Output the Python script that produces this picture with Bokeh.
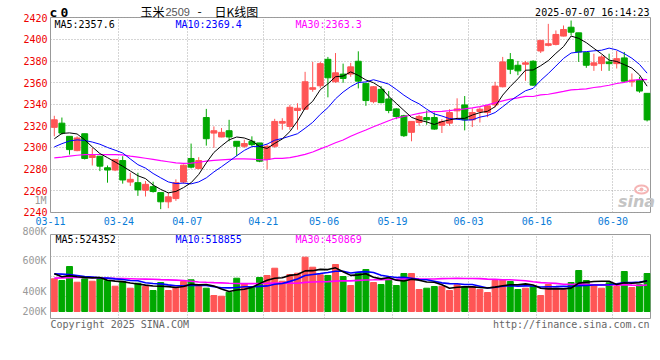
from bokeh.plotting import figure
from bokeh.models import ColumnDataSource, FixedTicker, Label, Range1d
from bokeh.embed import file_html
from bokeh.resources import INLINE

# ---------------- data ----------------
tick_index = [0, 9, 18, 28, 36, 45, 55, 64, 74]
tick_labels = ["03-11", "03-24", "04-07", "04-21", "05-06", "05-19", "06-03", "06-16", "06-30"]
price_ticks = [2240, 2260, 2280, 2300, 2320, 2340, 2360, 2380, 2400, 2420]
vol_tick_labels = ["1M", "800K", "600K", "400K", "200K"]

opens = [2318.6, 2322.5, 2310.3, 2297.1, 2312.7, 2290.7, 2291.9, 2281.2, 2279.1, 2287.9,
         2268.0, 2267.4, 2260.4, 2263.7, 2258.2, 2249.7, 2252.7, 2268.0, 2289.8, 2280.6,
         2327.7, 2313.3, 2309.7, 2315.5, 2305.7, 2301.1, 2305.7, 2304.2, 2288.9, 2301.1,
         2322.5, 2319.5, 2334.2, 2335.4, 2353.8, 2357.1, 2381.6, 2360.8, 2367.9, 2367.9,
         2379.8, 2359.3, 2342.4, 2353.8, 2344.9, 2335.7, 2329.3, 2314.0, 2323.1, 2327.7,
         2327.7, 2320.5, 2322.5, 2333.9, 2339.4, 2325.6, 2333.3, 2332.3, 2339.4, 2356.2,
         2381.3, 2376.1, 2377.0, 2379.8, 2389.3, 2394.5, 2395.4, 2403.1, 2411.3, 2406.1,
         2387.8, 2376.1, 2377.6, 2379.2, 2377.6, 2382.9, 2360.8, 2362.3, 2350.1]
highs = [2329.3, 2327.7, 2310.3, 2310.3, 2312.7, 2299.6, 2291.9, 2283.3, 2288.9, 2291.9,
         2276.6, 2276.6, 2268.9, 2268.3, 2258.2, 2258.2, 2270.5, 2284.2, 2303.6, 2291.0,
         2335.7, 2319.5, 2318.0, 2325.6, 2305.7, 2307.2, 2310.3, 2304.2, 2302.6, 2326.5,
         2327.1, 2339.4, 2340.9, 2370.0, 2379.2, 2379.2, 2383.8, 2387.4, 2377.6, 2378.3,
         2389.0, 2359.3, 2356.8, 2356.8, 2352.2, 2336.3, 2330.2, 2324.1, 2330.2, 2334.2,
         2332.3, 2326.2, 2335.4, 2345.5, 2347.6, 2336.3, 2337.2, 2339.4, 2360.8, 2383.8,
         2387.4, 2380.1, 2380.1, 2380.7, 2399.1, 2414.4, 2408.3, 2412.9, 2417.5, 2406.1,
         2387.8, 2386.8, 2385.3, 2386.8, 2389.3, 2388.4, 2368.5, 2365.4, 2350.1]
lows = [2310.3, 2311.8, 2293.4, 2296.5, 2288.9, 2283.3, 2278.1, 2267.4, 2278.1, 2266.5,
        2264.4, 2255.2, 2254.6, 2258.2, 2242.9, 2243.8, 2250.6, 2266.5, 2280.6, 2279.7,
        2301.7, 2299.6, 2309.4, 2305.7, 2291.9, 2299.6, 2301.1, 2286.4, 2279.7, 2299.6,
        2316.4, 2316.4, 2316.4, 2334.8, 2351.6, 2354.7, 2346.4, 2359.9, 2359.9, 2365.4,
        2354.7, 2338.5, 2340.9, 2340.9, 2331.7, 2326.2, 2309.7, 2305.7, 2320.1, 2321.0,
        2316.4, 2313.4, 2320.1, 2325.6, 2315.8, 2318.9, 2323.1, 2328.0, 2337.2, 2355.6,
        2367.9, 2366.9, 2361.7, 2356.8, 2387.4, 2393.6, 2394.5, 2402.8, 2403.7, 2379.2,
        2373.7, 2370.9, 2370.9, 2370.9, 2373.1, 2360.8, 2356.2, 2350.7, 2324.1]
closes = [2325.6, 2313.3, 2298.0, 2308.8, 2289.8, 2292.5, 2282.7, 2279.1, 2288.9, 2269.9,
          2270.5, 2260.7, 2265.9, 2259.2, 2249.7, 2254.3, 2267.4, 2283.6, 2281.8, 2287.9,
          2308.1, 2315.5, 2314.0, 2309.7, 2301.1, 2303.6, 2302.6, 2287.3, 2301.1, 2324.1,
          2324.1, 2337.2, 2336.3, 2360.8, 2355.3, 2377.6, 2364.5, 2369.1, 2363.9, 2374.6,
          2361.4, 2343.4, 2356.2, 2341.5, 2334.2, 2328.7, 2310.9, 2324.1, 2328.7, 2325.6,
          2317.0, 2324.0, 2332.3, 2335.7, 2325.6, 2332.3, 2335.4, 2338.5, 2356.8, 2379.2,
          2372.4, 2370.9, 2378.3, 2357.7, 2399.1, 2396.0, 2404.6, 2409.2, 2406.7, 2388.4,
          2376.1, 2378.3, 2383.8, 2377.6, 2382.2, 2361.4, 2362.3, 2352.2, 2325.5]
volumes = [556000, 527000, 765000, 498000, 556000, 515000, 556000, 527000, 430000, 510000,
           396000, 481000, 425000, 357000, 493000, 357000, 413000, 510000, 539000, 442000,
           396000, 272000, 260000, 328000, 566000, 471000, 425000, 578000, 612000, 736000,
           515000, 629000, 651000, 923000, 753000, 624000, 612000, 799000, 595000, 442000,
           663000, 714000, 493000, 459000, 556000, 442000, 646000, 646000, 374000, 396000,
           425000, 430000, 357000, 454000, 425000, 425000, 374000, 323000, 527000, 544000,
           510000, 374000, 396000, 425000, 272000, 459000, 396000, 369000, 493000, 697000,
           527000, 459000, 396000, 488000, 425000, 680000, 408000, 454000, 646000]

# moving-average values before enough candles are on screen
ma5_head = [2308.0, 2313.0, 2313.5, 2312.5]
ma10_head = [2300.5, 2303.5, 2306.0, 2307.0, 2306.5, 2305.0, 2303.0, 2300.0, 2297.5]
ma30_head = [2290.4, 2291.0, 2292.0, 2292.8, 2293.4, 2293.5, 2293.5, 2293.4, 2293.4, 2293.2,
             2292.0, 2291.0, 2290.0, 2288.9, 2287.8, 2286.8, 2285.8, 2285.3, 2285.5, 2286.3,
             2287.3, 2288.0, 2288.6, 2289.0, 2289.4, 2289.5, 2289.2, 2288.8, 2288.6]
vma5_head = [640000, 590000, 610000, 590000]
vma10_head = [640000, 635000, 629000, 612000, 595000, 584000, 572000, 567000, 555000]
vma30_head = [567000, 572000, 575000, 580000, 584000, 578000, 572000, 567000, 563000, 560000,
              557000, 553000, 550000, 547000, 542000, 538000, 533000, 527000, 515000, 502000,
              496000, 491000, 487000, 480000, 476000, 474000, 474000, 476000, 479000]

header_ma = ["MA5:2357.6", "MA10:2369.4", "MA30:2363.3"]
header_vma = ["MA5:524352", "MA10:518855", "MA30:450869"]
timestamp = "2025-07-07 16:14:23"


def moving_average(vals, n, head):
    out = list(head)
    for i in range(n - 1, len(vals)):
        out.append(sum(vals[i - n + 1:i + 1]) / n)
    return out


# ---------------- layout constants ----------------
W = 660
LEFT, RIGHT = 50, 10
FRAME_W = W - LEFT - RIGHT
SLOT = 7.6
F1_TOP, F1_FRAME_H, F1_BOT = 17, 195, 16
F1_H = F1_TOP + F1_FRAME_H + F1_BOT          # 228
F2_TOP, F2_FRAME_H, F2_BOT = 6, 84, 4
F2_H = F2_TOP + F2_FRAME_H + F2_BOT
F2_PAGE_TOP = F1_H
F2_FRAME_TOP = F2_PAGE_TOP + F2_TOP          # 234
F2_FRAME_BOTTOM = F2_FRAME_TOP + F2_FRAME_H  # 318
VOL_PER_PX = 17000
VOL_ZERO_PY = 311
TXT_H = 340

X0, X1 = 0.0, FRAME_W / SLOT
Y1_0, Y1_1 = 2239.8, 2420.3
Y2_0 = -(F2_FRAME_BOTTOM - VOL_ZERO_PY) * VOL_PER_PX
Y2_1 = (VOL_ZERO_PY - F2_FRAME_TOP) * VOL_PER_PX


def f2y(py):
    return Y2_0 + (F2_FRAME_BOTTOM - py) / F2_FRAME_H * (Y2_1 - Y2_0)


RED, GREEN = "#ff5555", "#00a800"
MONO = "DejaVu Sans Mono"
GRID = "#aaaaaa"


def pos(left, top):
    return {"position": "absolute", "left": f"{left}px", "top": f"{top}px"}


n = len(closes)
xs = [i + 0.5 for i in range(n)]
colors = [RED if c >= o else GREEN for o, c in zip(opens, closes)]
src = ColumnDataSource(dict(
    x=xs, high=highs, low=lows,
    top=[max(o, c) for o, c in zip(opens, closes)],
    bottom=[min(o, c) for o, c in zip(opens, closes)],
    color=colors, vol=volumes,
    ma5=moving_average(closes, 5, ma5_head),
    ma10=moving_average(closes, 10, ma10_head),
    ma30=moving_average(closes, 30, ma30_head),
    vma5=moving_average(volumes, 5, vma5_head),
    vma10=moving_average(volumes, 10, vma10_head),
    vma30=moving_average(volumes, 30, vma30_head),
))

# ---------------- main (price) panel ----------------
p1 = figure(width=W, height=F1_H, x_range=Range1d(X0, X1), y_range=Range1d(Y1_0, Y1_1),
            output_backend="svg", toolbar_location=None,
            min_border_left=LEFT, min_border_right=RIGHT,
            min_border_top=F1_TOP, min_border_bottom=F1_BOT, styles=pos(0, 0))
p1.xaxis.ticker = FixedTicker(ticks=tick_index)
p1.xaxis.major_label_overrides = {i: t for i, t in zip(tick_index, tick_labels)}
p1.xgrid.ticker = FixedTicker(ticks=tick_index)
p1.yaxis.ticker = FixedTicker(ticks=price_ticks)
p1.ygrid.ticker = FixedTicker(ticks=price_ticks)
for ax in (p1.xaxis[0], p1.yaxis[0]):
    ax.axis_line_color = None
    ax.major_tick_line_color = None
    ax.minor_tick_line_color = None
    ax.major_tick_out = 0
    ax.major_tick_in = 0
    ax.major_label_text_font = MONO
    ax.major_label_text_font_size = "10px"
p1.yaxis.major_label_standoff = 3
p1.yaxis.major_label_text_color = "#ee0000"
p1.xaxis.major_label_standoff = 4
p1.xaxis.major_label_text_color = "#0a7cd8"
for g in (p1.xgrid, p1.ygrid):
    g.grid_line_color = GRID
    g.grid_line_dash = "1 2"
p1.outline_line_color = "#999999"
p1.background_fill_color = "white"
p1.border_fill_color = "white"

p1.segment(x0="x", y0="low", x1="x", y1="high", color="color", line_width=1, source=src)
p1.vbar(x="x", width=0.78, top="top", bottom="bottom", fill_color="color",
        line_color="color", source=src)
p1.line("x", "ma30", color="#ff00ff", line_width=1.2, source=src)
p1.line("x", "ma10", color="#0000ff", line_width=1, source=src)
p1.line("x", "ma5", color="#000000", line_width=1, source=src)

# ---------------- volume panel ----------------
p2 = figure(width=W, height=F2_H, x_range=p1.x_range, y_range=Range1d(Y2_0, Y2_1),
            output_backend="svg", toolbar_location=None,
            min_border_left=LEFT, min_border_right=RIGHT,
            min_border_top=F2_TOP, min_border_bottom=F2_BOT, styles=pos(0, F2_PAGE_TOP))
p2.xaxis.visible = False
p2.yaxis.visible = False
p2.xgrid.ticker = FixedTicker(ticks=tick_index)
vol_grid_py = [255.7, 275.7, 295.7]
p2.ygrid.ticker = FixedTicker(ticks=[f2y(v) for v in vol_grid_py])
for g in (p2.xgrid, p2.ygrid):
    g.grid_line_color = GRID
    g.grid_line_dash = "1 2"
p2.outline_line_color = "#999999"
p2.background_fill_color = "white"
p2.border_fill_color = "white"

p2.vbar(x="x", width=0.78, top="vol", bottom=0, fill_color="color", line_color="color",
        source=src)
p2.line("x", "vma30", color="#ff00ff", line_width=1.6, source=src)
p2.line("x", "vma10", color="#0000ff", line_width=1.6, source=src)
p2.line("x", "vma5", color="#000000", line_width=1.6, source=src)

# ---------------- text layer (page pixel coordinates, on top, transparent) ----------------
pt = figure(width=W, height=TXT_H, x_range=Range1d(0, W), y_range=Range1d(TXT_H, 0),
            output_backend="svg", toolbar_location=None,
            min_border_left=0, min_border_right=0, min_border_top=0, min_border_bottom=0,
            styles=pos(0, 0))
pt.axis.visible = False
pt.grid.visible = False
pt.outline_line_color = None
pt.background_fill_color = None
pt.border_fill_color = None

# faint sina logo (decoration)
pt.ellipse(x=[641], y=[189], width=[13], height=[8], fill_color=None,
           line_color="#f5b5b5", line_width=2)
pt.scatter(x=[641], y=[189], size=4, fill_color="#f5b5b5", line_color=None)


def add_label(px, py, text, color="black", size="10px", font=MONO, align="left",
              style="normal"):
    pt.add_layout(Label(x=px, y=py, text=text, text_color=color, text_font=font,
                        text_font_size=size, text_align=align, text_baseline="middle",
                        text_font_style=style))


add_label(49, 12, "c", size="13px", style="bold")
add_label(60, 12, "0", size="13px", style="bold")
add_label(140, 11, "玉米", size="12px", font="Noto Sans CJK SC")
add_label(165, 11, "2509", color="#555555", size="11px", font="Liberation Sans")
add_label(197, 11, "-", size="12px", font="Noto Sans CJK SC")
add_label(214, 11, "日K线图", size="12px", font="Noto Sans CJK SC")
add_label(649, 12, timestamp, align="right")
add_label(54, 24, header_ma[0], color="#000000")
add_label(175, 24, header_ma[1], color="#0000ff")
add_label(295, 24, header_ma[2], color="#ff00ff")
add_label(636, 201, "sina", color="#c4c4c4", size="16px", font="DejaVu Sans",
          align="center", style="bold italic")
add_label(46, 200, vol_tick_labels[0], color="#999999", align="right")
for txt, py in zip(vol_tick_labels[1:], [230.7, 260.0, 290.7, 311.0]):
    add_label(46, py, txt, color="#999999", align="right")
add_label(55, 239, header_vma[0], color="#000000")
add_label(175, 239, header_vma[1], color="#0000ff")
add_label(295, 239, header_vma[2], color="#ff00ff")
add_label(50, 324, "Copyright 2025 SINA.COM", color="#666666")
add_label(649, 324, "http://finance.sina.com.cn", color="#666666", align="right")

open("out.html", "w").write(file_html((p1, p2, pt), INLINE))
